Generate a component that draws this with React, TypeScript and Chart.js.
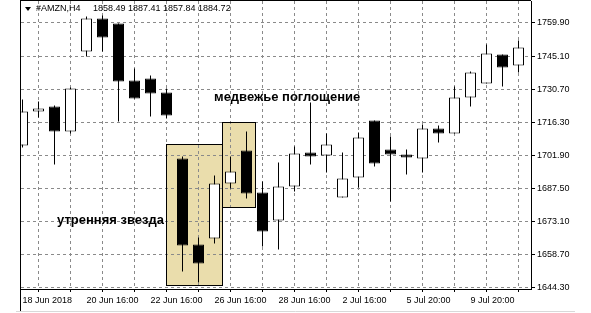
import React, { useEffect, useRef } from "react";
import { Chart, registerables } from "chart.js";

Chart.register(...registerables);

// ---- data ----
const openVals = [
  1706.3, 1721.1, 1723.3, 1712.4, 1747.3, 1761.7, 1759.5, 1734.6, 1735.5, 1729.4,
  1700.6, 1663.1, 1665.7, 1689.7, 1704.1, 1685.8, 1673.5, 1688.4, 1703.2, 1701.9,
  1683.6, 1692.3, 1717.2, 1704.5, 1702.3, 1700.6, 1713.7, 1711.5, 1727.2, 1733.3,
  1746.0, 1741.2,
];
const highVals = [
  1726.3, 1725.5, 1723.7, 1731.6, 1762.6, 1763.0, 1759.5, 1739.9, 1736.8, 1731.1,
  1701.5, 1666.1, 1693.2, 1701.5, 1712.4, 1690.6, 1698.8, 1705.8, 1725.0, 1711.5,
  1703.2, 1711.9, 1717.2, 1710.2, 1704.5, 1715.4, 1715.0, 1732.0, 1738.6, 1750.3,
  1746.0, 1752.1,
];
const lowVals = [
  1705.4, 1718.5, 1698.0, 1711.5, 1745.1, 1747.3, 1716.7, 1726.8, 1718.9, 1718.0,
  1651.3, 1646.5, 1663.5, 1687.5, 1683.1, 1662.2, 1660.9, 1686.2, 1698.0, 1694.5,
  1683.6, 1687.9, 1697.1, 1681.8, 1693.6, 1694.5, 1707.6, 1711.5, 1723.3, 1733.3,
  1732.0, 1738.1,
];
const closeVals = [
  1721.1, 1722.4, 1712.4, 1731.1, 1761.7, 1753.4, 1734.2, 1726.8, 1729.0, 1719.4,
  1662.6, 1654.8, 1689.7, 1694.9, 1685.3, 1668.7, 1688.4, 1702.8, 1701.5, 1706.7,
  1691.9, 1709.8, 1698.4, 1702.3, 1701.0, 1713.7, 1711.5, 1727.2, 1738.1, 1746.4,
  1740.3, 1749.0,
];

const xLabelIndices = [0, 4, 8, 12, 16, 20, 24, 28];
const xLabelTexts = [
  "18 Jun 2018",
  "20 Jun 16:00",
  "22 Jun 16:00",
  "26 Jun 16:00",
  "28 Jun 16:00",
  "2 Jul 16:00",
  "5 Jul 20:00",
  "9 Jul 20:00",
];
const xGridIndices = [0, 2, 4, 6, 8, 10, 12, 14, 16, 18, 20, 22, 24, 26, 28, 30];
const yTicks = [1644.3, 1658.7, 1673.1, 1687.5, 1701.9, 1716.3, 1730.7, 1745.1, 1759.9];

const headerSymbol = "#AMZN,H4";
const headerValues = "1858.49 1887.41 1857.84 1884.72";

// pattern boxes: [xFrom, xTo, priceTop, priceBottom]
const boxMorningStar = [8.97, 12.53, 1706.9, 1644.95];
const boxBearishEngulfing = [12.47, 14.59, 1716.5, 1679.0];
const labelMorningStar = { text: "утренняя звезда", x: 8.84, y: 1673.75 };
const labelBearish = { text: "медвежье поглощение", x: 11.97, y: 1727.4 };

// scale ranges
const X_MIN = -1.5 / 16;
const X_MAX = X_MIN + 510 / 16;
const Y_MIN = 1643.645;
const Y_MAX = Y_MIN + 288 / (33 / 14.4);

const BOX_FILL = "#EADDAC";
const GRID = "#8a8a8a";

function boxPixels(chart: any, b: number[]) {
  const xs = chart.scales.x;
  const ys = chart.scales.y;
  return {
    x1: Math.round(xs.getPixelForValue(b[0])),
    x2: Math.round(xs.getPixelForValue(b[1])),
    y1: Math.round(ys.getPixelForValue(b[2])),
    y2: Math.round(ys.getPixelForValue(b[3])),
  };
}

export default function App() {
  const ref = useRef<HTMLCanvasElement>(null);

  useEffect(() => {
    const canvas = ref.current;
    if (!canvas) return;

    const bodies = openVals.map((o, i) => ({ x: i, y: [o, closeVals[i]] }));
    const wicks = lowVals.map((l, i) => ({ x: i, y: [l, highVals[i]] }));
    const bodyFill = openVals.map((o, i) => (closeVals[i] >= o ? "#ffffff" : "#000000"));

    const decor = {
      id: "decor",
      beforeDraw(chart: any) {
        const ctx = chart.ctx;
        ctx.save();
        for (const b of [boxMorningStar, boxBearishEngulfing]) {
          const p = boxPixels(chart, b);
          ctx.fillStyle = BOX_FILL;
          ctx.fillRect(p.x1, p.y1, p.x2 - p.x1, p.y2 - p.y1);
        }
        ctx.restore();
      },
      beforeDatasetsDraw(chart: any) {
        const ctx = chart.ctx;
        ctx.save();
        ctx.setLineDash([]);
        ctx.strokeStyle = "#000";
        ctx.lineWidth = 1;
        for (const b of [boxMorningStar, boxBearishEngulfing]) {
          const p = boxPixels(chart, b);
          ctx.strokeRect(p.x1 + 0.5, p.y1 + 0.5, p.x2 - p.x1 - 1, p.y2 - p.y1 - 1);
        }
        ctx.restore();
      },
      afterDraw(chart: any) {
        const ctx = chart.ctx;
        const xs = chart.scales.x;
        const ys = chart.scales.y;
        const a = chart.chartArea;
        ctx.save();
        ctx.setLineDash([]);
        // frame
        ctx.strokeStyle = "#000";
        ctx.lineWidth = 1;
        ctx.beginPath();
        ctx.moveTo(a.left - 0.5, 0);
        ctx.lineTo(a.left - 0.5, 311);
        ctx.moveTo(a.left - 1, a.top - 0.5);
        ctx.lineTo(a.right, a.top - 0.5);
        ctx.stroke();
        ctx.strokeStyle = "#d9d9d9";
        ctx.beginPath();
        ctx.moveTo(16, 311.5);
        ctx.lineTo(575, 311.5);
        ctx.stroke();
        // header
        ctx.fillStyle = "#000";
        ctx.textBaseline = "middle";
        ctx.textAlign = "left";
        ctx.font = "9px 'Liberation Sans', Arial, sans-serif";
        ctx.beginPath();
        ctx.moveTo(25, 7);
        ctx.lineTo(31, 7);
        ctx.lineTo(28, 11);
        ctx.closePath();
        ctx.fill();
        ctx.fillText(headerSymbol, 36, 9);
        ctx.fillText(headerValues, 93, 9);
        // annotations
        ctx.font = "bold 13px 'Liberation Sans', Arial, sans-serif";
        ctx.textAlign = "left";
        ctx.fillText(labelBearish.text, xs.getPixelForValue(labelBearish.x), ys.getPixelForValue(labelBearish.y));
        ctx.textAlign = "right";
        ctx.fillText(
          labelMorningStar.text,
          xs.getPixelForValue(labelMorningStar.x),
          ys.getPixelForValue(labelMorningStar.y)
        );
        ctx.restore();
      },
    };

    const chart = new Chart(canvas, {
      type: "bar",
      data: {
        datasets: [
          {
            data: bodies as any,
            backgroundColor: bodyFill,
            borderColor: "#000",
            borderWidth: 1,
            borderSkipped: false,
            barThickness: 11,
            grouped: false,
            inflateAmount: 0,
            order: 1,
          } as any,
          {
            data: wicks as any,
            backgroundColor: "#000",
            borderWidth: 0,
            barThickness: 1,
            grouped: false,
            inflateAmount: 0,
            order: 2,
          } as any,
        ],
      },
      options: {
        animation: false,
        responsive: false,
        devicePixelRatio: 1,
        layout: { padding: { left: 21, top: 1, right: 0, bottom: 0 } },
        plugins: { legend: { display: false }, tooltip: { enabled: false } },
        scales: {
          x: {
            type: "linear",
            min: X_MIN,
            max: X_MAX,
            offset: false,
            afterBuildTicks: (s: any) => {
              s.ticks = xGridIndices.map((v) => ({ value: v }));
            },
            afterFit: (s: any) => {
              s.height = 24;
              s.paddingLeft = 0;
              s.paddingRight = 0;
              s.paddingTop = 0;
              s.paddingBottom = 0;
            },
            grid: {
              color: GRID,
              tickColor: "#000",
              tickLength: 3,
              tickBorderDash: [],
              drawTicks: true,
            } as any,
            border: { display: true, color: "#000", width: 1, dash: [3, 3] },
            ticks: {
              autoSkip: false,
              maxRotation: 0,
              minRotation: 0,
              align: "start",
              padding: 3,
              color: "#000",
              font: { family: "'Liberation Sans', Arial, sans-serif", size: 9 },
              callback: (value: any) => {
                const k = xLabelIndices.indexOf(Number(value));
                return k >= 0 ? xLabelTexts[k] : "";
              },
            },
          },
          y: {
            type: "linear",
            position: "right",
            min: Y_MIN,
            max: Y_MAX,
            afterBuildTicks: (s: any) => {
              s.ticks = yTicks.map((v) => ({ value: v }));
            },
            afterFit: (s: any) => {
              s.width = 60;
              s.paddingLeft = 0;
              s.paddingRight = 0;
              s.paddingTop = 0;
              s.paddingBottom = 0;
            },
            grid: {
              color: GRID,
              tickColor: "#000",
              tickLength: 4,
              tickBorderDash: [],
            } as any,
            border: { display: true, color: "#000", width: 1, dash: [3, 3] },
            ticks: {
              padding: 2,
              color: "#000",
              font: { family: "'Liberation Sans', Arial, sans-serif", size: 9 },
              callback: (value: any) => Number(value).toFixed(2),
            },
          },
        },
      },
      plugins: [decor],
    });

    return () => chart.destroy();
  }, []);

  return (
    <div style={{ position: "absolute", left: 0, top: 0, width: 591, height: 313, background: "#fff" }}>
      <canvas ref={ref} width={591} height={313} style={{ display: "block" }} />
    </div>
  );
}
